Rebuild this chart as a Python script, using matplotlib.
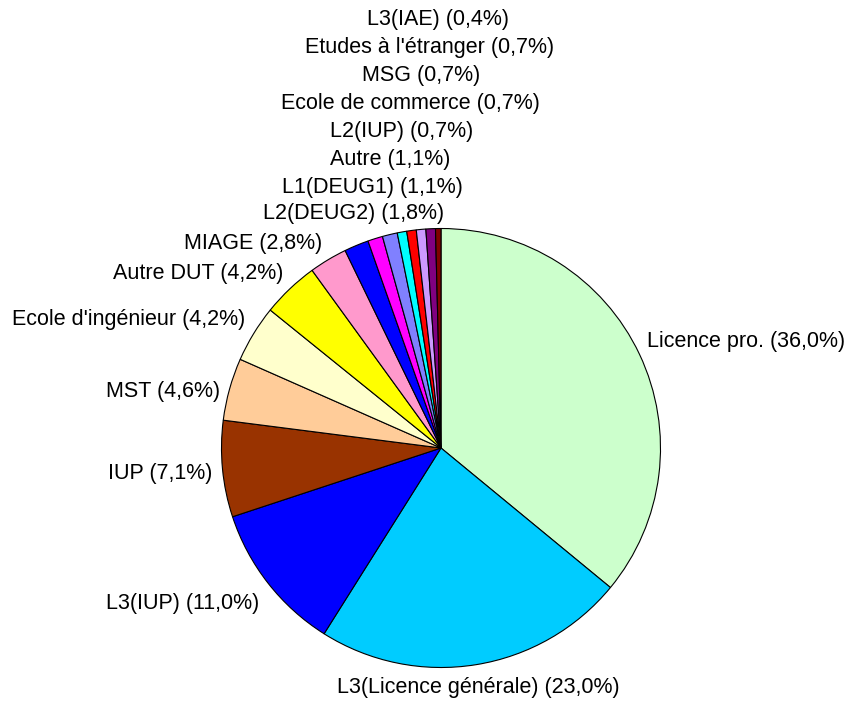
import matplotlib
matplotlib.use("Agg")
import matplotlib.pyplot as plt

# ---- data ----
categories = ["Licence pro.", "L3(Licence générale)", "L3(IUP)", "IUP", "MST",
              "Ecole d'ingénieur", "Autre DUT", "MIAGE", "L2(DEUG2)", "L1(DEUG1)",
              "Autre", "L2(IUP)", "Ecole de commerce", "MSG",
              "Etudes à l'étranger", "L3(IAE)"]
values = [36.0, 23.0, 11.0, 7.1, 4.6, 4.2, 4.2, 2.8, 1.8, 1.1, 1.1,
          0.7, 0.7, 0.7, 0.7, 0.4]
pct_labels = ["36,0%", "23,0%", "11,0%", "7,1%", "4,6%", "4,2%", "4,2%", "2,8%",
              "1,8%", "1,1%", "1,1%", "0,7%", "0,7%", "0,7%", "0,7%", "0,4%"]

# ---- style ----
colors = ["#CCFFCC", "#00CCFF", "#0000FF", "#993300", "#FFCC99", "#FFFFCC",
          "#FFFF00", "#FF99CC", "#0000FF", "#FF00FF", "#8080FF", "#00FFFF",
          "#FF0000", "#CC99FF", "#800080", "#800000"]
# label anchors in pixels (x, y from top, horizontal alignment)
label_pos = [(647, 341, "left"), (478, 688, "center"), (259, 603, "right"),
             (212, 473, "right"), (220, 392, "right"), (245, 319, "right"),
             (283, 273, "right"), (322, 243, "right"), (354, 213, "center"),
             (372, 187, "center"), (390, 159, "center"), (402, 132, "center"),
             (410, 103, "center"), (421, 76, "center"), (430, 48, "center"),
             (438, 20, "center")]

W, H = 855, 701
fig = plt.figure(figsize=(W / 100, H / 100), dpi=100)
ax = fig.add_axes([0, 0, 1, 1])
ax.set_xlim(0, W)
ax.set_ylim(0, H)
ax.axis("off")

cx, cy, r = 441, H - 448, 219.5
ax.pie(values, colors=colors, startangle=90, counterclock=False,
       center=(cx, cy), radius=r, frame=True,
       wedgeprops=dict(edgecolor="black", linewidth=0.8))
ax.set_xlim(0, W)
ax.set_ylim(0, H)
ax.axis("off")

for cat, p, (x, y, ha) in zip(categories, pct_labels, label_pos):
    ax.text(x, H - y, f"{cat} ({p})", ha=ha, va="center",
            fontsize=15.5, family=["Liberation Sans", "DejaVu Sans"], color="black")

fig.savefig("out.png", dpi=100, facecolor="white")
